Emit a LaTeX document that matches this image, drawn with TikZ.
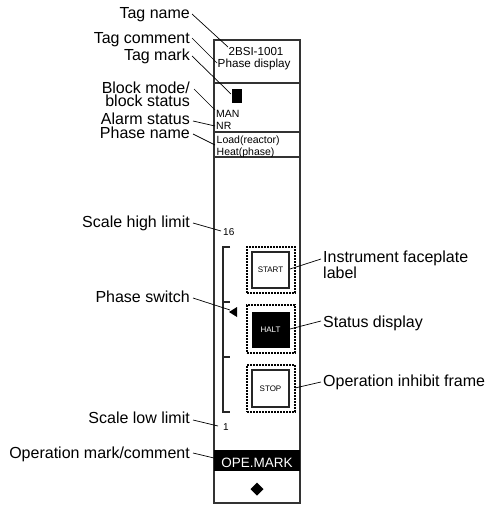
\documentclass[tikz,border=0pt]{standalone}
\usepackage{fontspec}
\setmainfont{Liberation Sans}
\begin{document}
\begin{tikzpicture}[x=1pt,y=-1pt,
  lbl/.style={inner sep=0pt,anchor=base east,align=right,font=\fontsize{16}{12.8}\selectfont},
  rlbl/.style={inner sep=0pt,anchor=base west,align=left,font=\fontsize{16}{14}\selectfont},
  ptxt/.style={inner sep=0pt,anchor=base west,font=\fontsize{10.5}{12}\selectfont},
  btntxt/.style={inner sep=0pt,font=\fontsize{8}{9}\selectfont},
  leader/.style={draw=black,line width=0.7pt},
  panel/.style={draw=black!80,line width=1.3pt},
  frame/.style={draw=black,line width=1.1pt,dash pattern=on 1.6pt off 1.4pt},
  btn/.style={draw=black!85,line width=1.1pt}]
\useasboundingbox (0,0) rectangle (495,506);

% panel
\draw[panel] (214,40) rectangle (300,503);
\draw[panel] (214,83) -- (300,83);
\draw[panel] (214,132) -- (300,132);
\draw[panel] (214,157) -- (300,157);

% panel texts
\node[inner sep=0pt,anchor=base,font=\fontsize{11.6}{12}\selectfont] (tag) at (256,55) {2BSI-1001};
\node[inner sep=0pt,anchor=base west,font=\fontsize{11.7}{12}\selectfont] (tagc) at (217.5,67.5) {Phase display};
\node[fill=black,inner sep=0pt,minimum width=10pt,minimum height=14pt] (mark) at (237,96) {};
\node[ptxt] (man) at (216,117) {MAN};
\node[ptxt] (nr) at (216,129.5) {NR};
\node[ptxt] (load) at (216.5,143.5) {Load(reactor)};
\node[ptxt] (heat) at (216.5,155.5) {Heat(phase)};
\node[inner sep=0pt,anchor=base west,font=\fontsize{10}{12}\selectfont] (hi) at (223,235) {16};
\node[inner sep=0pt,anchor=base west,font=\fontsize{10}{12}\selectfont] (lo) at (223,430) {1};

% scale bracket
\draw[line width=1.1pt,black!85] (230,247) -- (223,247) -- (223,412) -- (230,412);
\draw[line width=1.1pt,black!85] (223,302) -- (230,302);
\draw[line width=1.1pt,black!85] (223,357) -- (230,357);
\fill[black] (237,307) -- (237,317) -- (229,312) -- cycle;
\coordinate (sw) at (230,310);

% buttons
\node[frame,minimum width=48pt,minimum height=46pt,inner sep=0pt] (fstart) at (271,270) {};
\node[btn,fill=white,minimum width=37pt,minimum height=36pt,inner sep=0pt] (start) at (270.5,270) {};
\node[btntxt] at (start) {START};
\node[frame,minimum width=48pt,minimum height=48pt,inner sep=0pt] (fhalt) at (271,329) {};
\node[fill=black,minimum width=38pt,minimum height=36pt,inner sep=0pt] (halt) at (270.5,329.5) {};
\node[btntxt,text=white] at (halt) {HALT};
\node[frame,minimum width=48pt,minimum height=47pt,inner sep=0pt] (fstop) at (271,388.5) {};
\node[btn,fill=white,minimum width=37pt,minimum height=37pt,inner sep=0pt] (stop) at (270.5,388.5) {};
\node[btntxt] at (stop) {STOP};

% operation mark bar
\node[fill=black,minimum width=86pt,minimum height=21pt,inner sep=0pt] (ope) at (257,460) {};
\node[inner sep=0pt,anchor=base,text=white,font=\fontsize{13.5}{14}\selectfont] at (257,467) {OPE.MARK};
\fill[black] (257,482.5) -- (263.5,489) -- (257,495.5) -- (250.5,489) -- cycle;

% left labels
\node[lbl] (ltag) at (190,19) {Tag name};
\node[lbl] (ltagc) at (190,43.3) {Tag comment};
\node[lbl] (lmark) at (190,60) {Tag mark};
\node[lbl] (lblock) at (190,106.7) {Block mode/\\block status};
\node[lbl] (lalarm) at (190,124) {Alarm status};
\node[lbl] (lphase) at (190,138.3) {Phase name};
\node[lbl] (lhi) at (190,227) {Scale high limit};
\node[lbl] (lsw) at (190,302) {Phase switch};
\node[lbl] (llo) at (190,423) {Scale low limit};
\node[lbl] (lope) at (190,458) {Operation mark/comment};

% right labels
\node[rlbl] (rinst) at (323,278) {Instrument faceplate\\label};
\node[rlbl] (rstat) at (323,327) {Status display};
\node[rlbl] (rinh) at (323,386.5) {Operation inhibit frame};

% leader lines
\draw[leader] (192,14) -- (228,47);
\draw[leader] (192,38) -- (217,63);
\draw[leader] (192,56) -- (231,94);
\draw[leader] (194,89) -- (215,110);
\draw[leader] (193,121) -- (215,126);
\draw[leader] (193,134) -- (215,145);
\draw[leader] (193,223) -- (221,231);
\draw[leader] (193,298) -- (sw);
\draw[leader] (193,420) -- (218,426);
\draw[leader] (193,453) -- (214,458);
\draw[leader] (290,269) -- (321,259);
\draw[leader] (290,329) -- (321,321);
\draw[leader] (295,388) -- (321,382);
\end{tikzpicture}
\end{document}
